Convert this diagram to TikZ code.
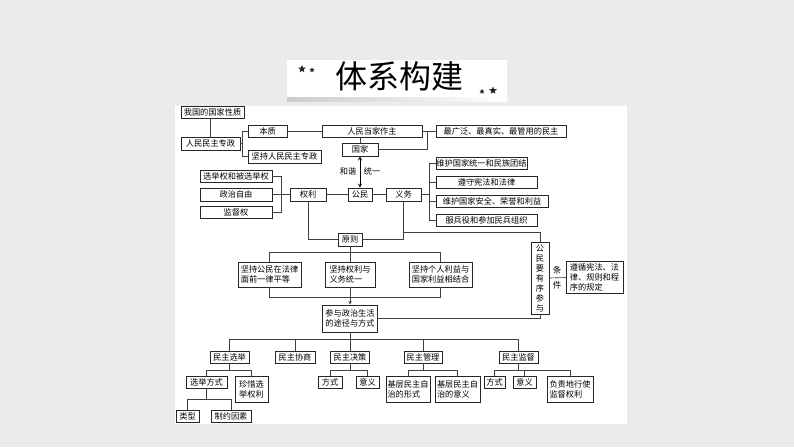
\documentclass[tikz,border=0pt]{standalone}
\usepackage{fontspec}
\newfontfamily\cjk{Noto Sans CJK SC}
\usetikzlibrary{shapes.geometric}

\begin{document}
\begin{tikzpicture}[x=1pt,y=-1pt,
  box/.style={draw=black!85, line width=0.7pt, inner sep=0pt, align=center,
    font=\cjk\fontsize{8.2}{10}\selectfont},
  link/.style={draw=black!75, line width=0.65pt},
  lbl/.style={inner sep=0pt, font=\cjk\fontsize{8.2}{10}\selectfont},
  starmark/.style={star, star points=5, star point ratio=2.2, fill=black!85, inner sep=0pt}]
\useasboundingbox (0,0) rectangle (794,447);
\fill[black!8] (0,0) rectangle (794,447);

% title
\fill[white] (287,60) rectangle (507,99);
\shade[left color=black!20, middle color=black, right color=white] (287,97) rectangle (507,101);
\node[inner sep=0pt, font=\cjk\fontsize{32}{34}\selectfont] (title) at (399,76) {体系构建};
\node[starmark, minimum size=8pt] (s1) at (302,69) {};
\node[starmark, minimum size=5.5pt] (s2) at (312,70) {};
\node[starmark, minimum size=5.5pt] (s3) at (482,91.5) {};
\node[starmark, minimum size=8pt] (s4) at (493,90.5) {};

\fill[white] (175,106) rectangle (627,424);

% nature of the state
\node[box, minimum width=63pt, minimum height=12pt] (xingzhi) at (212.5,112.5) {我国的国家性质};
\node[box, minimum width=59pt, minimum height=13pt] (zhuanzheng) at (210.5,143.5) {人民民主专政};
\node[box, minimum width=39pt, minimum height=12pt] (benzhi) at (267.5,131.5) {本质};
\node[box, minimum width=73pt, minimum height=13pt] (jianchi) at (284.5,156.5) {坚持人民民主专政};
\node[box, minimum width=100pt, minimum height=12pt] (zuozhu) at (372,131.5) {人民当家作主};
\node[box, minimum width=36pt, minimum height=13pt] (guojia) at (360,149.5) {国家};
\node[box, minimum width=130pt, minimum height=12pt] (zuiguang) at (501,131.5) {最广泛、最真实、最管用的民主};

% rights and duties
\node[box, minimum width=72pt, minimum height=12pt] (ql1) at (236,176) {选举权和被选举权};
\node[box, minimum width=72pt, minimum height=13pt] (ql2) at (236,194.5) {政治自由};
\node[box, minimum width=72pt, minimum height=12pt] (ql3) at (236,212) {监督权};
\node[box, minimum width=36pt, minimum height=13pt] (quanli) at (308,194.5) {权利};
\node[box, minimum width=24pt, minimum height=13pt] (gongmin) at (360,194.5) {公民};
\node[box, minimum width=35pt, minimum height=13pt] (yiwu) at (403.5,194.5) {义务};
\node[box, minimum width=91pt, minimum height=12pt] (yw1) at (481.5,163) {维护国家统一和民族团结};
\node[box, minimum width=101pt, minimum height=12pt] (yw2) at (486.5,182) {遵守宪法和法律};
\node[box, minimum width=112pt, minimum height=12pt] (yw3) at (492,201) {维护国家安全、荣誉和利益};
\node[box, minimum width=101pt, minimum height=12pt] (yw4) at (486.5,220) {服兵役和参加民兵组织};
\node[lbl] (hexie) at (348,171) {和谐};
\node[lbl] (tongyi) at (372,171) {统一};

% principles
\node[box, minimum width=24pt, minimum height=13pt] (yuanze) at (350,239.5) {原则};
\node[box, minimum width=63pt, minimum height=25pt, align=left] (yz1) at (269.5,274.5) {坚持公民在法律\\面前一律平等};
\node[box, minimum width=50pt, minimum height=25pt, align=left] (yz2) at (350,274.5) {坚持权利与\\义务统一};
\node[box, minimum width=63pt, minimum height=25pt, align=left] (yz3) at (440.5,274.5) {坚持个人利益与\\国家利益相结合};
\node[box, minimum width=18pt, minimum height=72pt] (youxu) at (540,278) {公\\民\\要\\有\\序\\参\\与};
\node[lbl, font=\cjk\fontsize{8.5}{10}\selectfont] (tiao) at (557,270) {条};
\node[lbl, font=\cjk\fontsize{8.5}{10}\selectfont] (jian) at (557,285.5) {件};
\node[box, minimum width=57pt, minimum height=32pt, align=left] (zunxun) at (594.5,277.5) {遵循宪法、法\\律、规则和程\\序的规定};

% ways of participation
\node[box, minimum width=55pt, minimum height=27pt] (canyu) at (350,318.5) {参与政治生活\\的途径与方式};
\node[box, minimum width=39pt, minimum height=12pt] (mz1) at (229.5,357) {民主选举};
\node[box, minimum width=40pt, minimum height=12pt] (mz2) at (295,357) {民主协商};
\node[box, minimum width=39pt, minimum height=12pt] (mz3) at (350,357) {民主决策};
\node[box, minimum width=38pt, minimum height=12pt] (mz4) at (423,357) {民主管理};
\node[box, minimum width=39pt, minimum height=12pt] (mz5) at (518.5,357) {民主监督};

\node[box, minimum width=41pt, minimum height=12pt] (xjfs) at (206.5,382) {选举方式};
\node[box, minimum width=33pt, minimum height=26pt] (zxxj) at (251.5,389) {珍惜选\\举权利};
\node[box, minimum width=23pt, minimum height=12pt] (lx) at (187.5,416) {类型};
\node[box, minimum width=40pt, minimum height=12pt] (zy) at (231,416) {制约因素};
\node[box, minimum width=24pt, minimum height=12pt] (fs1) at (330,382) {方式};
\node[box, minimum width=23pt, minimum height=12pt] (yy1) at (367.5,382) {意义};
\node[box, minimum width=44pt, minimum height=26pt, align=left] (xs) at (408,389) {基层民主自\\治的形式};
\node[box, minimum width=45pt, minimum height=26pt, align=left] (yi) at (457.5,389) {基层民主自\\治的意义};
\node[box, minimum width=21pt, minimum height=12pt] (fs2) at (494.5,382) {方式};
\node[box, minimum width=23pt, minimum height=12pt] (yy2) at (524.5,382) {意义};
\node[box, minimum width=46pt, minimum height=26pt, align=left] (fz) at (570,389) {负责地行使\\监督权利};

% connectors, top part
\draw[link] (zhuanzheng.north) -- (zhuanzheng.north |- xingzhi.south);
\draw[link] (benzhi.west) -- ++(-5,0) coordinate (bz-l) |- (jianchi.west);
\draw[link] (zhuanzheng.east) -- (zhuanzheng.east -| bz-l);
\draw[link] (benzhi.east) -- (zuozhu.west);
\draw[link] (zuozhu.east) -- (zuiguang.west);
\draw[link] (zuiguang.west) -- ++(-8,0) coordinate (zg-l);
\draw[link] (guojia.east) -| (zg-l);
\draw[link] (guojia.north) -- (guojia.north |- zuozhu.south);
\draw[stealth-stealth, line width=0.8pt] (guojia.south) -- (gongmin.north);

\draw[link] (quanli.west) -- ++(-8,0) coordinate (ql-l);
\draw[link] (ql1.east) -| (ql-l) |- (ql3.east);
\draw[link] (ql2.east) -- (ql-l);
\draw[link] (quanli.east) -- (gongmin.west);
\draw[link] (gongmin.east) -- (yiwu.west);
\draw[link] (yw1.west) -- ++(-6,0) coordinate (yw-l) |- (yw4.west);
\draw[link] (yiwu.east) -- (yiwu.east -| yw-l);
\foreach \n in {yw2,yw3}
  \draw[link] (\n.west) -- (\n.west -| yw-l);

% principles
\draw[link] (quanli.south) |- (yuanze.west);
\draw[link] (yiwu.south) |- (yuanze.east);
\draw[link] (yiwu.south |- yuanze.north) -| (youxu.north);
\path (yuanze.south) ++(0,6) coordinate (fy);
\draw[link] (yuanze.south) -- (yz2.north);
\draw[link] (yz1.north) |- (fy) -| (yz3.north);
\path (yz2.south) ++(0,10) coordinate (fb);
\draw[link] (yz1.south) |- (fb) -| (yz3.south);
\draw[link, -stealth] (yz2.south) -- (canyu.north);
\draw[link] (youxu.east) -- (zunxun.west);
\draw[link] (youxu.south) |- (canyu.east);

% ways
\path (canyu.south) ++(0,7) coordinate (fm);
\draw[link] (canyu.south) -- (mz3.north);
\draw[link] (mz1.north) |- (fm) -| (mz5.north);
\foreach \n in {mz2,mz4}
  \draw[link] (\n.north) -- (\n.north |- fm);
\path (mz1.south) ++(0,7) coordinate (f1);
\draw[link] (mz1.south) -- (f1);
\draw[link] (xjfs.north) |- (f1) -| (zxxj.north);
\path (xjfs.south) ++(0,11) coordinate (f6);
\draw[link] (xjfs.south) -- (f6);
\draw[link] (lx.north) |- (f6) -| (zy.north);
\path (mz3.south) ++(0,7) coordinate (f3);
\draw[link] (mz3.south) -- (f3);
\draw[link] (fs1.north) |- (f3) -| (yy1.north);
\path (mz4.south) ++(0,7) coordinate (f4);
\draw[link] (mz4.south) -- (f4);
\draw[link] (xs.north) |- (f4) -| (yi.north);
\path (mz5.south) ++(0,7) coordinate (f5);
\draw[link] (mz5.south) -- (f5);
\draw[link] (fs2.north) |- (f5) -| (fz.north);
\draw[link] (yy2.north) -- (yy2.north |- f5);
\end{tikzpicture}
\end{document}
